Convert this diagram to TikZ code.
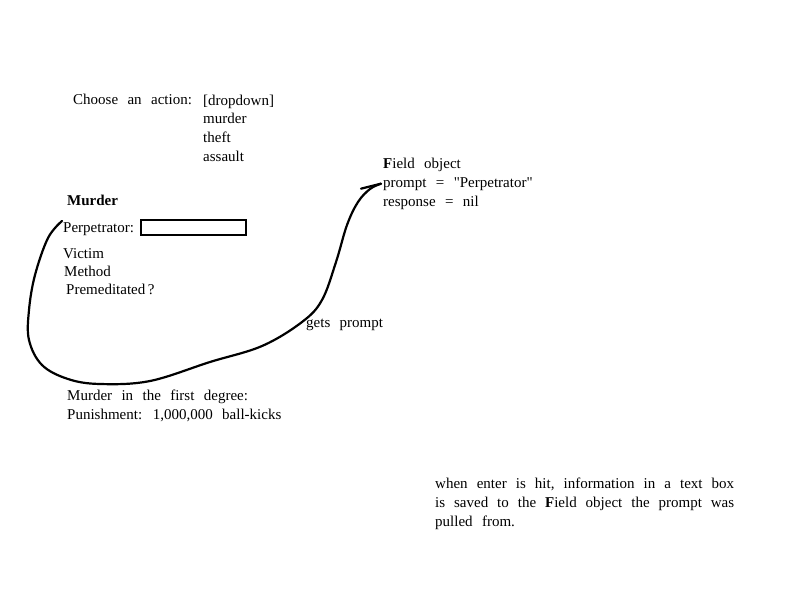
\documentclass[tikz,border=0pt]{standalone}
\usepackage{fontspec}
\setmainfont[WordSpace=2.5]{Liberation Serif}
\newfontfamily\rawserif[WordSpace=2.5]{Liberation Serif}
\usepackage{tikz}
\usetikzlibrary{arrows, positioning}
\tikzset{
  txt/.style = {inner sep=0pt, anchor=base west, align=left,
    font=\fontsize{15}{19}\selectfont},
  ink/.style = {black, line width=2.2pt, line cap=round, line join=round},
  inbox/.style = {draw=black, line width=1.5pt, inner sep=0pt,
    minimum width=105pt, minimum height=15pt, anchor=west}
}

\begin{document}
\begin{tikzpicture}[x=1pt, y=-1pt]
\useasboundingbox (0,0) rectangle (800,600);
% action chooser
\node [txt] (choose) at (73,104) {Choose an action:};
\node [txt] (drop) at (203,105) {[dropdown]};
\node [txt] (optm) at (203,123) {murder};
\node [txt] (optt) at (203,142) {theft};
\node [txt] (opta) at (203,161) {assault};
% murder form
\node [txt] (murder) at (67,205) {\textbf{Murder}};
\node [txt] (perp) at (63,232) {Perpetrator:};
\node [inbox] (box) at (140,227.5) {};
\node [txt] (victim) at (63,258) {Victim};
\node [txt] (method) at (64,276) {Method};
\node [txt] (premed) at (66,294) {Premeditated\,?};
% field object
\node [txt] (field) at (383,168) {\textbf{F}ield object};
\node [txt] (prompt) at (383,187) {prompt = {\rawserif"Perpetrator"}};
\node [txt] (resp) at (383,206) {response = nil};
\node [txt] (gets) at (306,327) {gets prompt};
% result
\node [txt] (degree) at (67,400) {Murder in the first degree:};
\node [txt] (punish) at (67,419) {Punishment: 1,000,000 ball-kicks};
\node [txt, anchor=north west, text width=299pt, align=justify] (note) at (435,478)
  {when enter is hit, information in a text box\linebreak is saved to the \textbf{F}ield object the prompt was\linebreak pulled from.};
% hand drawn connector
\draw [ink] plot [smooth, tension=0.6] coordinates {([xshift=-1pt,yshift=1pt]perp.north west) (48,238) (35,275) (29,310) (29,340) (42,365) (68,379) (100,384) (150,381) (210,362) (262,346) (302,322) (322,300) (336,262) (347,225) (358,202) (370,189) ([xshift=-2pt]prompt.west)};
\draw [ink] ([xshift=-2pt]prompt.west) -- ++(-20,5);
\end{tikzpicture}
\end{document}
